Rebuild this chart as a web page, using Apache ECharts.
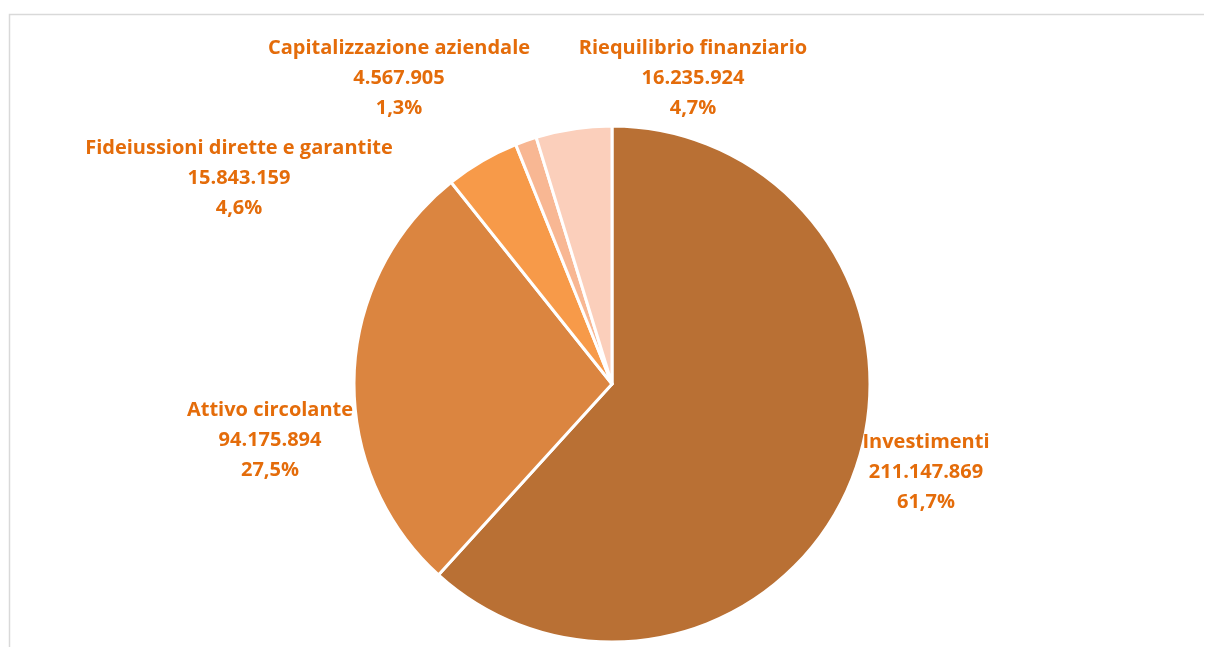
<!DOCTYPE html>
<html>
<head>
<meta charset="utf-8">
<script src="https://cdn.jsdelivr.net/npm/echarts@6/dist/echarts.min.js"></script>
<style>
  html, body { margin: 0; padding: 0; background: #ffffff; }
  #chart { width: 1205px; height: 647px; }
</style>
</head>
<body>
<div id="chart"></div>
<script>
// Ripartizione degli impieghi (valori in euro)
const categories = [
  'Investimenti',
  'Attivo circolante',
  'Fideiussioni dirette e garantite',
  'Capitalizzazione aziendale',
  'Riequilibrio finanziario'
];
const values = [211147869, 94175894, 15843159, 4567905, 16235924];

const sliceColors = ['#B97034', '#DB8540', '#F79A49', '#F8B793', '#FBCFBB'];
// Centre of each label block (px)
const labelAnchors = [
  [926, 472],
  [270, 440],
  [239, 178],
  [399, 78],
  [693, 78]
];

const total = values.reduce((a, b) => a + b, 0);

function formatThousands(n) {
  return String(n).replace(/\B(?=(\d{3})+(?!\d))/g, '.');
}
function formatPercent(v) {
  return (v / total * 100).toFixed(1).replace('.', ',') + '%';
}

const chart = echarts.init(document.getElementById('chart'), null, { renderer: 'canvas' });

chart.setOption({
  backgroundColor: '#ffffff',
  animation: false,
  graphic: [{
    type: 'polyline',
    shape: { points: [[9.5, 647], [9.5, 14.5], [1204, 14.5]] },
    style: { stroke: '#D9D9D9', lineWidth: 1.5, fill: null },
    silent: true
  }],
  series: [{
    type: 'pie',
    center: [612, 384],
    radius: 258,
    startAngle: 90,
    clockwise: true,
    avoidLabelOverlap: false,
    itemStyle: { borderColor: '#ffffff', borderWidth: 3 },
    label: {
      show: true,
      position: 'outside',
      formatter: p => p.name + '\n' + formatThousands(p.value) + '\n' + formatPercent(p.value),
      fontFamily: 'Open Sans',
      fontWeight: 'bold',
      fontSize: 20,
      lineHeight: 30,
      color: '#E46C0A',
      align: 'center'
    },
    labelLine: { show: false },
    labelLayout: p => ({
      x: labelAnchors[p.dataIndex][0],
      y: labelAnchors[p.dataIndex][1],
      align: 'center',
      verticalAlign: 'middle'
    }),
    emphasis: { disabled: true },
    data: categories.map((name, i) => ({
      name: name,
      value: values[i],
      itemStyle: { color: sliceColors[i] }
    }))
  }]
});
</script>
</body>
</html>
